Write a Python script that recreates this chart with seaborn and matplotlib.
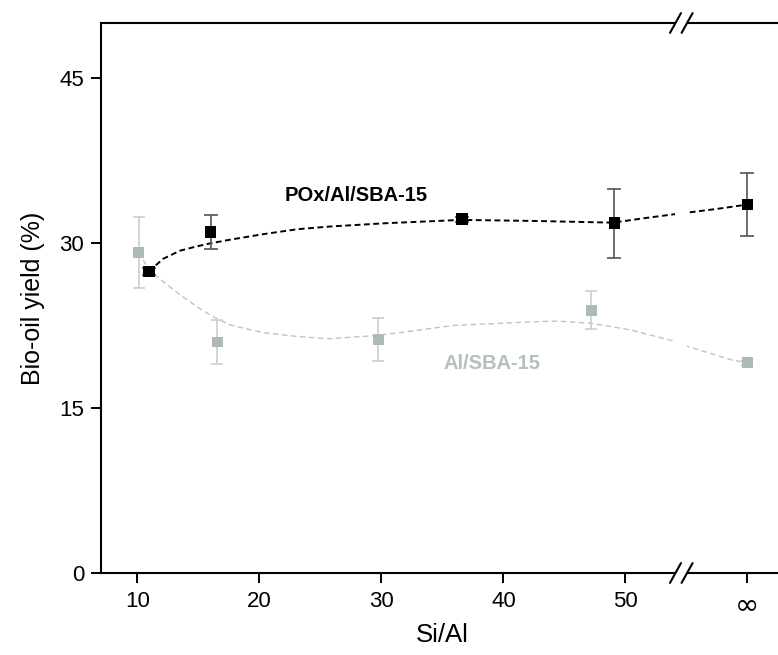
import matplotlib
matplotlib.use("Agg")
import matplotlib.pyplot as plt
import seaborn as sns
from matplotlib.patches import Rectangle

# ---------------- data ----------------
pox_x = [10.95, 16.0, 36.6, 49.1, 60.0]          # 60 stands for "infinity"
pox_y = [27.4, 31.0, 32.15, 31.8, 33.5]
pox_err = [0.3, 1.55, 0.2, 3.15, 2.85]

al_x = [10.1, 16.55, 29.75, 47.2, 60.0]
al_y = [29.15, 21.0, 21.2, 23.9, 19.1]
al_err = [3.25, 2.0, 1.95, 1.75, 0.2]

# smooth guide-curves
pox_curve_x = [10.95, 12.1, 13.5, 14.9, 16.0, 17.6, 20.3, 23.1, 25.8, 30.4, 36.6, 42.7, 49.0, 51.5, 53.9, 55.0, 57.5, 59.4, 60.0]
pox_curve_y = [27.4, 28.55, 29.3, 29.7, 29.97, 30.3, 30.8, 31.25, 31.5, 31.8, 32.1, 32.0, 31.85, 32.25, 32.6, 32.75, 33.1, 33.4, 33.5]

al_curve_x = [10.1, 10.95, 12.1, 13.5, 14.9, 16.2, 17.6, 20.3, 23.1, 25.8, 29.75, 35.9, 42.7, 44.4, 47.2, 50.4, 53.9, 55.1, 58.6, 60.0]
al_curve_y = [29.15, 27.6, 26.5, 25.3, 24.2, 23.3, 22.55, 21.85, 21.5, 21.3, 21.6, 22.5, 22.85, 22.9, 22.7, 22.1, 21.1, 20.6, 19.4, 19.1]

x_ticks = [10, 20, 30, 40, 50, 60]
x_tick_labels = ["10", "20", "30", "40", "50", "\u221e"]
y_ticks = [0, 15, 30, 45]

pox_label = "POx/Al/SBA-15"
al_label = "Al/SBA-15"

# ---------------- style ----------------
sns.set_theme(style="ticks")
plt.rcParams["font.family"] = ["Liberation Sans", "DejaVu Sans"]
plt.rcParams["text.color"] = "black"
plt.rcParams["axes.labelcolor"] = "black"

BLACK = "#000000"
GRAY = "#adbab9"
GRAY_LINE = "#bcc4c4"
GRAY_ERR = "#c3cbcb"
DARK_ERR = "#555555"

fig = plt.figure(figsize=(7.78, 6.55), dpi=100)
ax = fig.add_axes([0.1294, 0.1252, 0.8706, 0.8397])

# guide curves
sns.lineplot(x=al_curve_x, y=al_curve_y, sort=False, ax=ax, color=GRAY_LINE,
             linewidth=1.0, linestyle=(0, (4, 2.5)), zorder=2)
sns.lineplot(x=pox_curve_x, y=pox_curve_y, sort=False, ax=ax, color=BLACK,
             linewidth=1.4, linestyle=(0, (3, 1.8)), zorder=2.2)

# error bars
ax.errorbar(al_x, al_y, yerr=al_err, fmt="none", ecolor=GRAY_ERR,
            elinewidth=1.1, capsize=4.5, capthick=1.1, zorder=2.5)
ax.errorbar(pox_x, pox_y, yerr=pox_err, fmt="none", ecolor=DARK_ERR,
            elinewidth=1.2, capsize=4.8, capthick=1.2, zorder=2.6)

# markers
sns.scatterplot(x=al_x, y=al_y, ax=ax, marker="s", s=62, color=GRAY,
                edgecolor="none", linewidth=0, zorder=3)
sns.scatterplot(x=pox_x, y=pox_y, ax=ax, marker="s", s=72, color=BLACK,
                edgecolor="none", linewidth=0, zorder=3.1)

# labels inside the plot
ax.text(27.9, 34.3, pox_label, color=BLACK, fontsize=14.5, fontweight="bold",
        ha="center", va="center")
ax.text(39.05, 19.0, al_label, color="#b3c0bf", fontsize=14.5, fontweight="bold",
        ha="center", va="center")

# axes
ax.set_xlim(7, 62.5)
ax.set_ylim(0, 50)
ax.set_xticks(x_ticks)
ax.set_xticklabels(x_tick_labels)
ax.set_yticks(y_ticks)
ax.tick_params(axis="both", direction="out", length=7, width=1.4,
               labelsize=16, colors="#000000")
ax.tick_params(axis="y", pad=5)
ax.tick_params(axis="x", pad=6)
inf_label = ax.get_xticklabels()[-1]
inf_label.set_fontsize(21)
inf_label.set_fontfamily(["DejaVu Sans"])
ax.set_xlabel("Si/Al", fontsize=18.5, va="center")
ax.xaxis.set_label_coords(0.504, -0.113)
ax.set_ylabel("Bio-oil yield (%)", fontsize=18, labelpad=10)

for side in ["left", "bottom", "top"]:
    ax.spines[side].set_visible(True)
    ax.spines[side].set_linewidth(1.5)
    ax.spines[side].set_color("black")
ax.spines["right"].set_visible(False)

# axis break (gap + slashes) on bottom and top spines
trans = ax.get_xaxis_transform()
ax.add_patch(Rectangle((54.1, -0.02), 0.95, 1.04, transform=trans,
                       facecolor="white", edgecolor="none", clip_on=False, zorder=4))
for c in (54.1, 55.05):
    for y0 in (0.0, 1.0):
        ax.plot([c - 0.45, c + 0.45], [y0 - 0.018, y0 + 0.018], transform=trans,
                color="black", linewidth=1.5, clip_on=False, zorder=5)

fig.savefig("out.png", dpi=100, facecolor="white")
